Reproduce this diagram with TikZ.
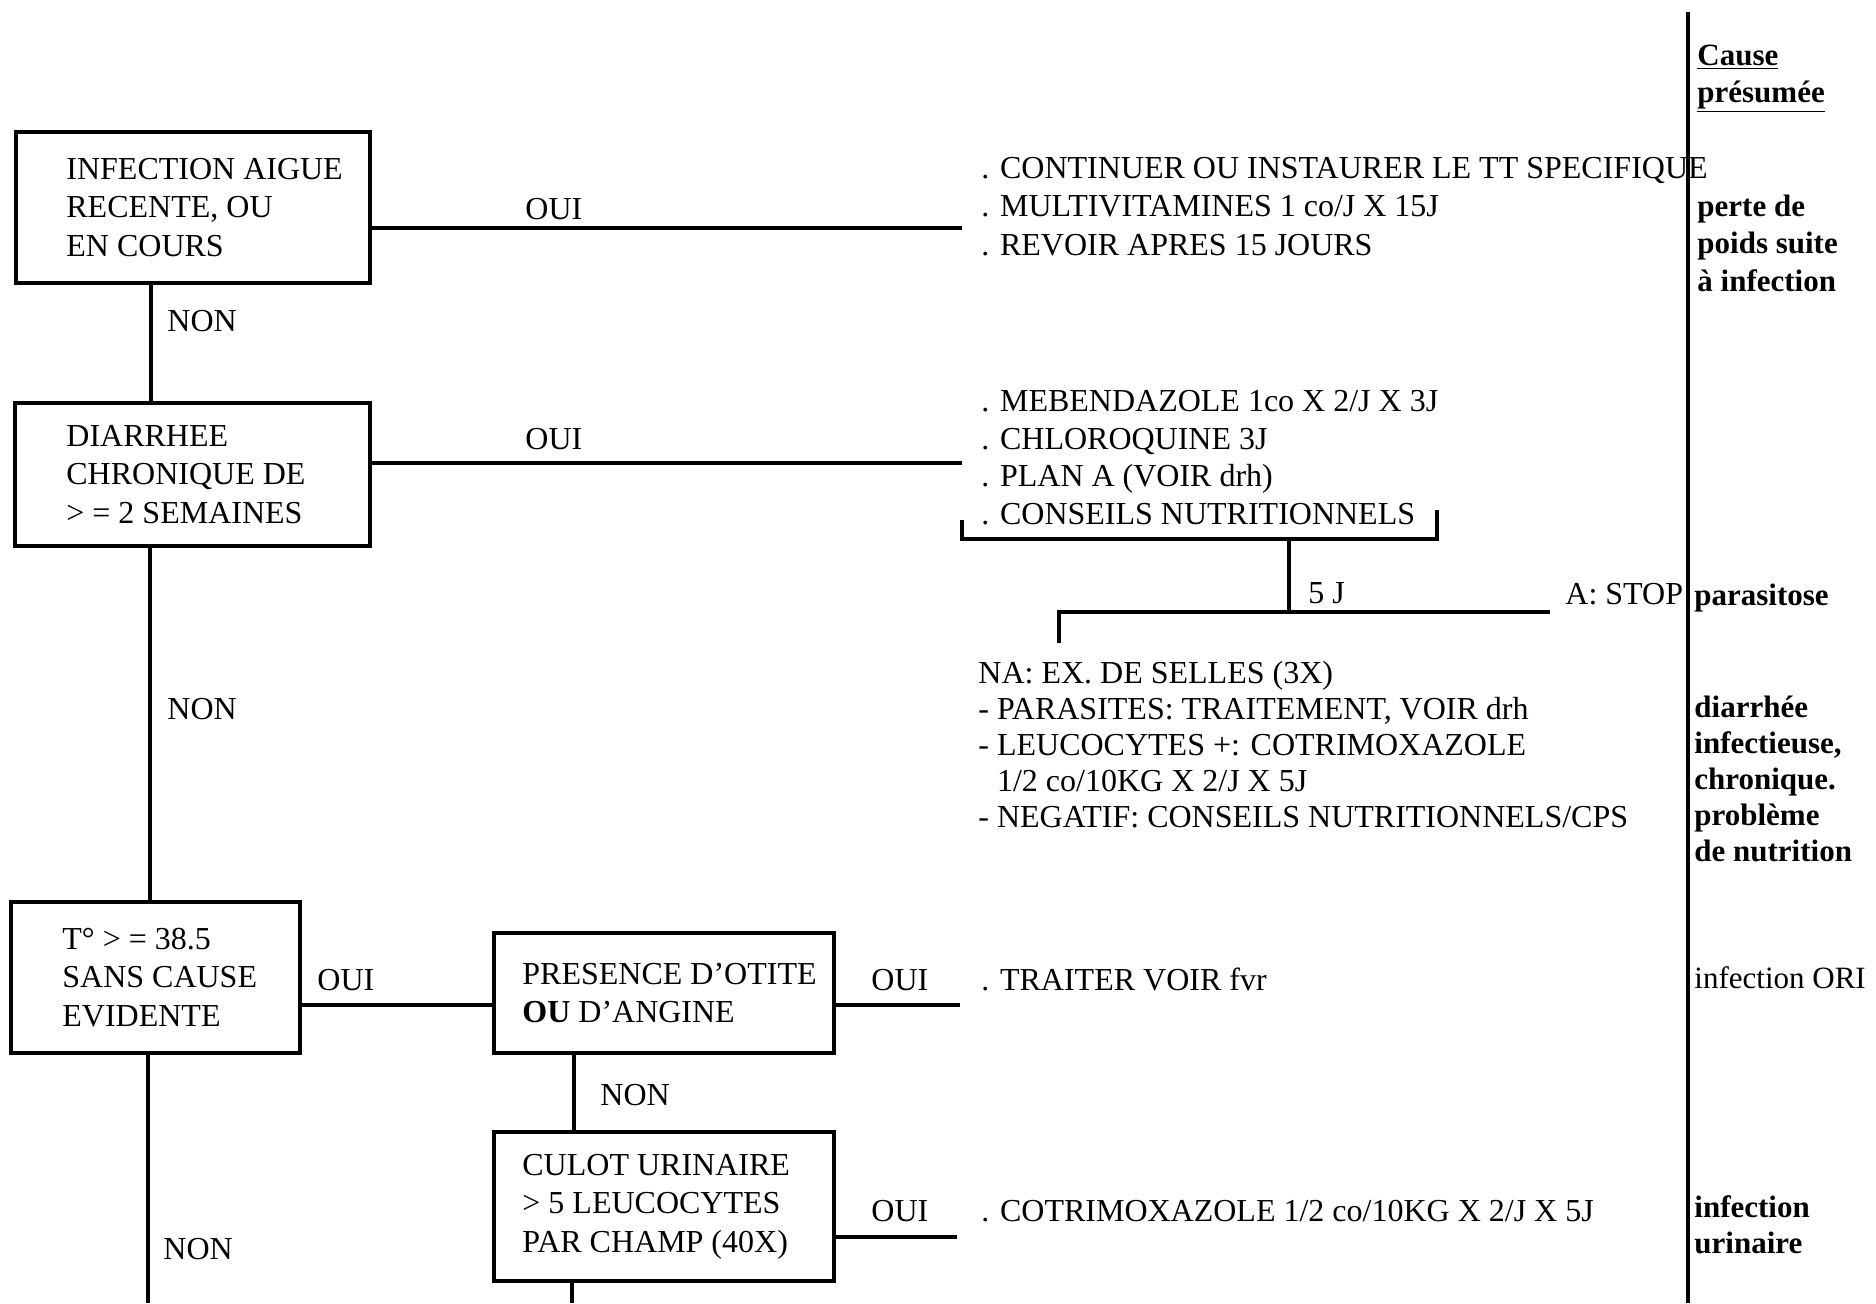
\documentclass[tikz,border=0pt]{standalone}
\usepackage{fontspec}
\setmainfont{Liberation Serif}
\begin{document}
\begin{tikzpicture}[x=0.5pt,y=-0.5pt,
  box/.style={draw, line width=2pt, rectangle, inner sep=0pt, outer sep=0pt, anchor=north west},
  btxt/.style={anchor=west, inner sep=0pt, align=left, font=\fontsize{16pt}{19.25pt}\selectfont},
  txt/.style={anchor=base west, inner sep=0pt, align=left, font=\fontsize{16pt}{19pt}\selectfont},
  lbl/.style={anchor=base west, inner sep=0pt, font=\fontsize{16pt}{19pt}\selectfont},
  rcol/.style={anchor=base west, inner sep=0pt, align=left, font=\bfseries\fontsize{15.5pt}{18.75pt}\selectfont},
  conn/.style={line width=2.4pt},
  vline/.style={line width=1.6pt}
]
\useasboundingbox (0,0) rectangle (1876,1303);

% right separator and header (multi-line nodes: base = last line)
\coordinate (rt) at (1688,12);
\coordinate (rb) at (1688,1303);
\draw[line width=2pt] (rt) -- (rb);
\node[rcol, font=\bfseries\fontsize{15.5pt}{18.5pt}\selectfont] (cause) at (1697,102) {\underline{Cause}\\\underline{présumée}};

% boxes
\node[box, minimum width=177pt, minimum height=75.5pt] (b1) at (16,132) {};
\node[btxt] (b1t) at ([xshift=25pt]b1.west) {INFECTION AIGUE\\RECENTE, OU\\EN COURS};
\node[box, minimum width=177.5pt, minimum height=71.5pt] (b2) at (15,403) {};
\node[btxt] (b2t) at ([xshift=25.5pt]b2.west) {DIARRHEE\\CHRONIQUE DE\\> = 2 SEMAINES};
\node[box, minimum width=144.5pt, minimum height=75.5pt] (b3) at (11,902) {};
\node[btxt] (b3t) at ([xshift=25.5pt]b3.west) {T° > = 38.5\\SANS CAUSE\\EVIDENTE};
\node[box, minimum width=170pt, minimum height=60pt] (b4) at (494,933) {};
\node[btxt] (b4t) at ([xshift=14pt]b4.west) {PRESENCE D'OTITE\\\textbf{OU} D'ANGINE};
\node[box, minimum width=170pt, minimum height=74.5pt] (b5) at (494,1132) {};
\node[btxt] (b5t) at ([xshift=14pt]b5.west) {CULOT URINAIRE\\> 5 LEUCOCYTES\\PAR CHAMP (40X)};

% row 1
\coordinate (e1) at (962,228);
\draw[conn] (b1.east |- e1) -- (e1);
\node[lbl] (l1) at (525,219) {OUI};
\node[txt, font=\fontsize{16pt}{19.25pt}\selectfont] (t1) at (981,255) {. CONTINUER OU INSTAURER LE TT SPECIFIQUE\\. MULTIVITAMINES 1 co/J X 15J\\. REVOIR APRES 15 JOURS};
\node[rcol] (r1) at (1697,291) {perte de\\poids suite\\à infection};

\coordinate (v1) at (151,0);
\draw[vline] (b1.south -| v1) -- (b2.north -| v1);
\node[lbl] (n1) at (167,331) {NON};

% row 2
\coordinate (e2) at (962,463);
\draw[conn] (b2.east |- e2) -- (e2);
\node[lbl] (l2) at (525,449) {OUI};
\node[txt, font=\fontsize{16pt}{18.7pt}\selectfont] (t2) at (981,524) {. MEBENDAZOLE 1co X 2/J X 3J\\. CHLOROQUINE 3J\\. PLAN A (VOIR drh)\\. CONSEILS NUTRITIONNELS};
\coordinate (br1) at (962,520);
\coordinate (br2) at (962,539);
\coordinate (br3) at (1437,539);
\coordinate (br4) at (1437,510);
\draw[line width=2pt] (br1) -- (br2) -- (br3) -- (br4);
\coordinate (s1) at (1289,539);
\coordinate (s2) at (1289,612);
\draw[line width=2pt] (s1) -- (s2);
\coordinate (f1) at (1059,643);
\coordinate (f2) at (1059,612);
\coordinate (f3) at (1550,612);
\draw[line width=2.2pt] (f1) -- (f2) -- (f3);
\node[lbl] (l5j) at (1308,603) {5 J};
\node[lbl] (stop) at (1565,604) {A: STOP};
\node[rcol] (r2) at (1694,605) {parasitose};
\node[txt, font=\fontsize{16pt}{17.9pt}\selectfont] (t3) at (978,827) {NA: EX. DE SELLES (3X)\\- PARASITES: TRAITEMENT, VOIR drh\\- LEUCOCYTES +: COTRIMOXAZOLE\\\phantom{- }1/2 co/10KG X 2/J X 5J\\- NEGATIF: CONSEILS NUTRITIONNELS/CPS};
\node[rcol, font=\bfseries\fontsize{15.5pt}{18pt}\selectfont] (r3) at (1694,861) {diarrhée\\infectieuse,\\chronique.\\problème\\de nutrition};

\coordinate (v2) at (150,0);
\draw[vline] (b2.south -| v2) -- (b3.north -| v2);
\node[lbl] (n2) at (167,719) {NON};

% row 3
\coordinate (h3) at (0,1005);
\draw[conn] (b3.east |- h3) -- (b4.west |- h3);
\node[lbl] (l3) at (317,990) {OUI};
\coordinate (e4) at (960,1005);
\draw[conn] (b4.east |- e4) -- (e4);
\node[lbl] (l4) at (871,990) {OUI};
\node[txt] (t4) at (981,990) {. TRAITER VOIR fvr};
\node[rcol, font=\fontsize{15.5pt}{18.75pt}\selectfont] (r4) at (1694,988) {infection ORI};

\coordinate (v4) at (574,0);
\draw[vline] (b4.south -| v4) -- (b5.north -| v4);
\node[lbl] (n3) at (600,1105) {NON};

% row 4
\coordinate (e5) at (957,1237);
\draw[conn] (b5.east |- e5) -- (e5);
\node[lbl] (l6) at (871,1221) {OUI};
\node[txt] (t5) at (981,1221) {. COTRIMOXAZOLE 1/2 co/10KG X 2/J X 5J};
\node[rcol, font=\bfseries\fontsize{15.5pt}{18pt}\selectfont] (r5) at (1694,1253) {infection\\urinaire};

\coordinate (v5) at (572,1303);
\draw[vline] (b5.south -| v5) -- (v5);
\coordinate (v3) at (148,1303);
\draw[vline] (b3.south -| v3) -- (v3);
\node[lbl] (n4) at (163,1259) {NON};
\end{tikzpicture}
\end{document}
